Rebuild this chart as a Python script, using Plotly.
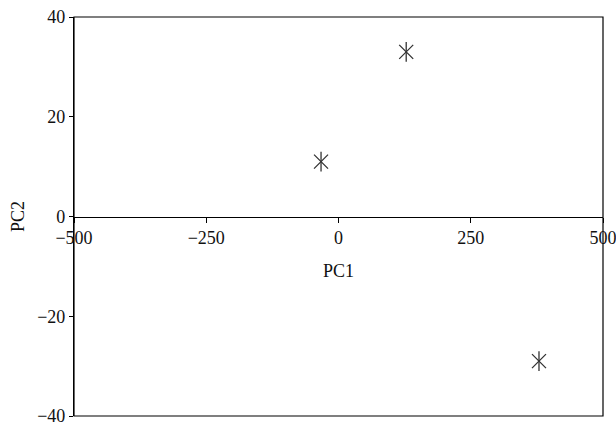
import plotly.graph_objects as go

pc1 = [-33, 128, 379]
pc2 = [11, 33, -29]
x_ticks = [-500, -250, 0, 250, 500]
y_ticks = [-40, -20, 0, 20, 40]

font = dict(family="Liberation Serif, Times New Roman, serif", size=18, color="#111")
mcol = "#333333"

fig = go.Figure()
for sym in ["x-thin-open", "line-ns-open"]:
    fig.add_trace(go.Scatter(
        x=pc1, y=pc2, mode="markers",
        marker=dict(symbol=sym, size=14, line=dict(width=1.3, color=mcol), color=mcol),
        showlegend=False, hoverinfo="x+y"))

fig.update_layout(
    width=616, height=427,
    margin=dict(l=74, r=13, t=17, b=11),
    paper_bgcolor="white", plot_bgcolor="white",
    font=font,
    xaxis=dict(range=[-500, 500], tickvals=x_ticks, ticks="outside", ticklen=5,
               tickcolor="black", showline=True, linecolor="black", linewidth=1.2,
               showgrid=False, zeroline=False, anchor="free", position=0.5,
               automargin=False, ticklabeloverflow="allow",
               title=dict(text="PC1", standoff=17, font=font)),
    yaxis=dict(range=[-40, 40], tickvals=y_ticks, ticks="outside", ticklen=4,
               tickcolor="black", showline=True, linecolor="black", linewidth=1.2,
               showgrid=False, zeroline=False, automargin=False,
               title=dict(text="PC2", standoff=7, font=font)),
    shapes=[dict(type="rect", xref="x domain", yref="y domain", x0=0, x1=1, y0=0, y1=1,
                 line=dict(color="black", width=1.2))],
)

fig.write_html("out.html", config={"displayModeBar": False},
               post_script="document.body.style.margin='0';document.body.style.overflow='hidden';")
